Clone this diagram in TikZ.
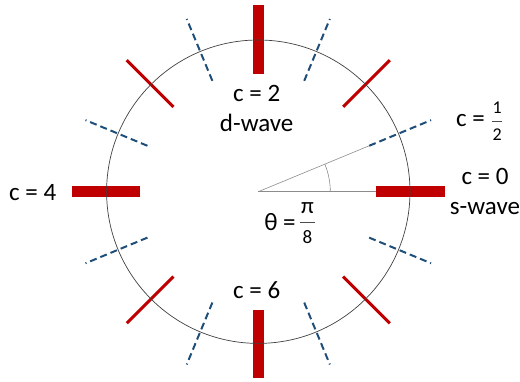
\documentclass[tikz,border=0pt]{standalone}
\usepackage{fontspec}
\setmainfont{Carlito}
\usetikzlibrary{calc}
\definecolor{barred}{HTML}{C00000}
\definecolor{lineblue}{HTML}{1F4E79}

\begin{document}
\begin{tikzpicture}[
		x=1pt, y=1pt,
		b/.style = {barred, line width=10.5pt},
		d/.style = {barred, line width=3pt},
		h/.style = {lineblue, line width=2pt, dash pattern=on 7pt off 4pt},
		g/.style = {black!45, line width=0.6pt},
		l/.style = {font=\fontsize{25}{30}\selectfont, align=center, inner sep=0pt},
		n/.style = {font=\fontsize{18}{18}\selectfont, inner sep=0pt},
		fb/.style = {black!70, line width=0.7pt}
		]
		\useasboundingbox (-258.3,-189.3) rectangle (261.7,191.7);
		
		%Nodes
		\coordinate (o) at (0,0);
		\node[l]	(d)	at	(-1.6, 83.2)	{c = 2\\d-wave};
		\node[l]	(s)	at	(226.7, 0)	{c = 0\\s-wave};
		\node[l]	(f)	at	(-225.6, -1)	{c = 4};
		\node[l]	(x)	at	(-1.6, -98.3)	{c = 6};
		\node[l]	(h)	at	(212.2, 71)	{c =};
		\node[n]	(h1)	at	(239, 83.7)	{1};
		\node[n]	(h2)	at	(239, 56.7)	{2};
		\node[l]	(t)	at	(21.7, -30.3)	{θ =};
		\node[n, font=\fontsize{23}{23}\selectfont]	(t1)	at	(49.2, -16.3)	{π};
		\node[n, font=\fontsize{19}{19}\selectfont]	(t2)	at	(49.2, -45.3)	{8};
		
		%Lines
		\foreach \a in {0,90,180,270}
			\draw[b]	($(o)+(\a:118)$)	--	($(o)+(\a:186.5)$);
		\foreach \a in {45,135,225,315}
			\draw[d]	($(o)+(\a:120)$)	--	($(o)+(\a:186)$);
		\foreach \a in {22.5,67.5,...,337.5}
			\draw[h]	($(o)+(\a:120)$)	--	($(o)+(\a:187)$);
		\draw[g]	(o)	--	($(o)+(0:118)$);
		\draw[g]	(o)	--	($(o)+(22.5:120)$);
		\draw[g]	($(o)+(0:72)$)	arc[start angle=0, end angle=22.5, radius=72];
		\draw[black!75, line width=0.7pt]	(o)	circle[radius=151.7];
		\draw[fb]	($(h1)!.5!(h2)+(-5,0)$)	--	++(10,0);
		\draw[fb]	($(t1)!.5!(t2)+(-7.5,0)$)	--	++(15,0);
	\end{tikzpicture}
\end{document}
